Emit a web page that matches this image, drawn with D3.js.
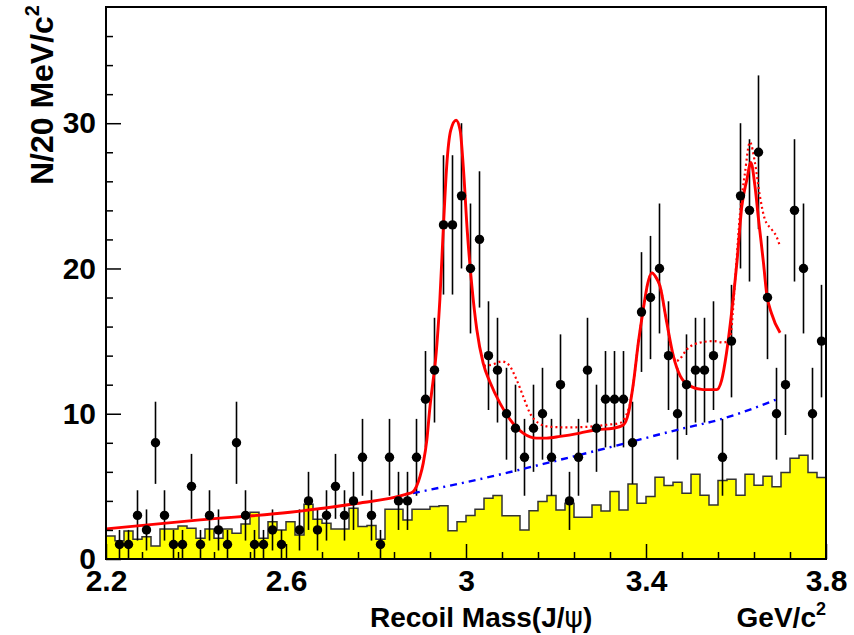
<!DOCTYPE html>
<html>
<head>
<meta charset="utf-8">
<script src="https://cdn.jsdelivr.net/npm/d3@7"></script>
<style>
  html, body { margin: 0; padding: 0; background: #fff; }
  svg { display: block; }
  text { font-family: "Liberation Sans", Arial, Helvetica, sans-serif; font-weight: bold; fill: #000; }
</style>
</head>
<body>
<svg id="chart" width="854" height="635"></svg>
<script>
// Histogram binning: 20 MeV/c^2 bins over the recoil-mass window
const massMin = 2.2;
const massMax = 3.8;
const binWidth = 0.02;

// Observed events per bin (data points, Poisson errors)
const dataCounts = [
  0, 1, 1, 3, 2, 8, 3, 1, 1, 5,
  1, 3, 2, 1, 8, 3, 1, 1, 2, 1,
  0, 2, 4, 2, 3, 5, 3, 4, 7, 3,
  1, 7, 4, 4, 7, 11, 13, 23, 23, 25,
  20, 22, 14, 13, 10, 9, 7, 9, 10, 7,
  12, 4, 7, 13, 9, 11, 11, 11, 8, 17,
  18, 20, 14, 10, 12, 13, 13, 14, 7, 15,
  25, 24, 28, 18, 10, 12, 24, 20, 10, 15
];

// Normalised sideband / background histogram (filled)
const sidebandCounts = [
  1.59, 1.25, 1.93, 1.36, 1.54, 0.90, 2.07, 2.07, 2.28, 2.11,
  1.43, 2.07, 1.43, 2.07, 1.77, 2.41, 3.22, 1.43, 2.57, 2.00,
  2.57, 1.66, 3.77, 2.74, 2.46, 2.07, 2.07, 3.49, 2.23, 2.30,
  1.36, 3.43, 3.43, 2.69, 3.43, 3.43, 3.61, 3.66, 1.95, 2.57,
  3.00, 3.43, 4.18, 4.37, 2.97, 2.97, 2.00, 3.33, 3.95, 4.37,
  3.38, 3.84, 2.87, 2.87, 3.72, 3.31, 4.64, 3.38, 5.17, 3.84,
  4.30, 5.63, 5.06, 5.29, 4.53, 5.84, 4.39, 3.72, 5.40, 5.49,
  4.39, 5.84, 5.08, 5.70, 4.97, 5.95, 6.94, 7.15, 5.95, 5.61
];

// Total fit curve (mass, events)
const fitTotal = [
  [2.200, 2.07], [2.409, 2.69], [2.609, 3.22], [2.749, 3.79], [2.866, 4.45],
  [2.882, 4.62], [2.890, 5.00], [2.898, 5.70], [2.905, 6.60], [2.913, 8.20],
  [2.920, 10.5], [2.927, 12.3], [2.931, 13.3], [2.942, 17.9], [2.950, 23.0],
  [2.957, 27.0], [2.966, 29.5], [2.978, 30.2], [2.987, 29.5], [2.994, 27.0],
  [3.003, 22.5], [3.013, 18.8], [3.024, 15.8], [3.038, 13.5], [3.053, 12.2],
  [3.076, 10.7], [3.098, 9.60], [3.127, 8.67], [3.157, 8.32], [3.179, 8.32],
  [3.209, 8.44], [3.253, 8.67], [3.290, 8.90], [3.327, 9.00], [3.350, 9.24],
  [3.361, 10.05], [3.372, 12.1], [3.383, 14.9], [3.394, 17.2], [3.404, 19.0],
  [3.413, 19.7], [3.422, 19.4], [3.431, 18.8], [3.446, 16.3], [3.461, 13.95],
  [3.476, 12.6], [3.498, 11.9], [3.527, 11.66], [3.557, 11.66], [3.568, 12.3],
  [3.579, 14.2], [3.590, 16.9], [3.602, 20.4], [3.613, 24.3], [3.624, 26.1],
  [3.633, 27.3], [3.642, 25.7], [3.650, 23.4], [3.661, 20.4], [3.668, 18.3],
  [3.679, 16.9], [3.698, 15.57]
];

// Alternative fit (dotted), shown where it differs from the total fit
const fitAlternative = [
  [3.040, 13.3], [3.060, 13.4], [3.079, 13.6], [3.094, 13.4], [3.113, 12.3],
  [3.127, 11.2], [3.142, 10.05], [3.161, 9.36], [3.187, 9.10], [3.224, 9.06],
  [3.268, 9.10], [3.313, 9.24], [3.342, 9.36], [3.356, 9.90], [3.366, 10.9],
  [3.372, 12.1], [3.383, 14.9], [3.394, 17.2], [3.404, 19.0], [3.413, 19.7],
  [3.422, 19.4], [3.431, 18.8], [3.446, 16.3], [3.458, 14.3], [3.466, 13.6],
  [3.476, 13.8], [3.490, 14.4], [3.520, 14.9], [3.550, 15.0], [3.572, 14.9],
  [3.587, 15.3], [3.598, 19.2], [3.609, 23.8], [3.620, 26.6], [3.631, 28.7],
  [3.642, 27.3], [3.653, 25.0], [3.664, 23.4], [3.679, 22.7], [3.690, 22.2],
  [3.698, 21.5]
];

// Smooth background component (dash-dot)
const fitBackground = [
  [2.882, 4.53], [3.031, 5.50], [3.179, 6.60], [3.327, 7.75],
  [3.476, 8.94], [3.564, 9.60], [3.698, 11.08]
];

// Axis ticks and titles
const xMajorTicks = [2.2, 2.6, 3.0, 3.4, 3.8];
const xMinorTicks = [2.28, 2.36, 2.44, 2.52, 2.68, 2.76, 2.84, 2.92,
                     3.08, 3.16, 3.24, 3.32, 3.48, 3.56, 3.64, 3.72];
const yMajorTicks = [0, 10, 20, 30];
const yMinorTicks = [2, 4, 6, 8, 12, 14, 16, 18, 22, 24, 26, 28, 32, 34, 36];
const yMax = 38;

const svg = d3.select("#chart");
const frame = { left: 106, right: 826, top: 7, bottom: 559 };

const x = d3.scaleLinear().domain([massMin, massMax]).range([frame.left, frame.right]);
const y = d3.scaleLinear().domain([0, yMax]).range([frame.bottom, frame.top]);

svg.append("rect").attr("width", 854).attr("height", 635).attr("fill", "#fff");

// Filled background histogram as a step outline
const histPts = [[massMin, 0]];
sidebandCounts.forEach((v, i) => {
  const lo = massMin + i * binWidth;
  histPts.push([lo, v], [lo + binWidth, v]);
});
histPts.push([massMax, 0]);

const lineXY = d3.line().x(d => x(d[0])).y(d => y(d[1]));
svg.append("path")
  .attr("d", lineXY(histPts) + "Z")
  .attr("fill", "#ffff00")
  .attr("stroke", "#333")
  .attr("stroke-width", 1.5)
  .attr("stroke-linejoin", "miter");

// Data: error bars
const points = dataCounts
  .map((n, i) => ({ m: massMin + (i + 0.5) * binWidth, n }))
  .filter(d => d.n > 0);

svg.append("g").selectAll("line")
  .data(points).join("line")
  .attr("x1", d => x(d.m)).attr("x2", d => x(d.m))
  .attr("y1", d => y(d.n - Math.sqrt(d.n)))
  .attr("y2", d => y(d.n + Math.sqrt(d.n)))
  .attr("stroke", "#000")
  .attr("stroke-width", 1.6);

// Fit curves
const smooth = d3.line().x(d => x(d[0])).y(d => y(d[1])).curve(d3.curveMonotoneX);

svg.append("path")
  .attr("d", smooth(fitBackground))
  .attr("fill", "none")
  .attr("stroke", "#0000ff")
  .attr("stroke-width", 2.4)
  .attr("stroke-dasharray", "7,5,2,5");

svg.append("path")
  .attr("d", smooth(fitAlternative))
  .attr("fill", "none")
  .attr("stroke", "#ff0000")
  .attr("stroke-width", 2.2)
  .attr("stroke-dasharray", "2,3");

svg.append("path")
  .attr("d", smooth(fitTotal))
  .attr("fill", "none")
  .attr("stroke", "#ff0000")
  .attr("stroke-width", 2.9);

// Data markers
svg.append("g").selectAll("circle")
  .data(points).join("circle")
  .attr("cx", d => x(d.m))
  .attr("cy", d => y(d.n))
  .attr("r", 4.7)
  .attr("fill", "#000");

// Axes (ticks point inward)
const fmt = d3.format("~g");
const xMajor = svg.append("g")
  .attr("transform", `translate(0,${frame.bottom})`)
  .call(d3.axisBottom(x).tickValues(xMajorTicks).tickFormat(fmt)
    .tickSizeInner(-15).tickSizeOuter(0).tickPadding(11));
const xMinor = svg.append("g")
  .attr("transform", `translate(0,${frame.bottom})`)
  .call(d3.axisBottom(x).tickValues(xMinorTicks).tickFormat("")
    .tickSizeInner(-7).tickSizeOuter(0));
const yMajor = svg.append("g")
  .attr("transform", `translate(${frame.left},0)`)
  .call(d3.axisLeft(y).tickValues(yMajorTicks).tickFormat(fmt)
    .tickSizeInner(-15).tickSizeOuter(0).tickPadding(10));
const yMinor = svg.append("g")
  .attr("transform", `translate(${frame.left},0)`)
  .call(d3.axisLeft(y).tickValues(yMinorTicks).tickFormat("")
    .tickSizeInner(-7).tickSizeOuter(0));

[xMajor, xMinor, yMajor, yMinor].forEach(g => {
  g.select(".domain").remove();
  g.selectAll(".tick line").attr("stroke", "#000").attr("stroke-width", 1.5);
  g.selectAll(".tick text")
    .attr("font-family", "'Liberation Sans', Arial, sans-serif")
    .attr("font-weight", "bold")
    .attr("font-size", 30)
    .attr("fill", "#000");
});

// Frame
svg.append("rect")
  .attr("x", frame.left).attr("y", frame.top)
  .attr("width", frame.right - frame.left)
  .attr("height", frame.bottom - frame.top)
  .attr("fill", "none")
  .attr("stroke", "#000")
  .attr("stroke-width", 2);

// Axis titles
const xTitle = svg.append("text")
  .attr("x", 370).attr("y", 627)
  .attr("font-size", 28);
xTitle.append("tspan").text("Recoil Mass(J/");
xTitle.append("tspan").attr("font-weight", "normal").attr("font-family", "'DejaVu Sans', sans-serif").text("ψ");
xTitle.append("tspan").text(")");

const unit = svg.append("text")
  .attr("x", frame.right).attr("y", 627)
  .attr("text-anchor", "end")
  .attr("font-size", 28);
unit.append("tspan").text("GeV/c");
unit.append("tspan").attr("dy", -12).attr("font-size", 18).text("2");

const yTitle = svg.append("text")
  .attr("transform", `translate(53,${frame.top - 2}) rotate(-90)`)
  .attr("text-anchor", "end")
  .attr("font-size", 32);
yTitle.append("tspan").text("N/20 MeV/c");
yTitle.append("tspan").attr("dy", -14).attr("font-size", 20).text("2");
</script>
</body>
</html>
